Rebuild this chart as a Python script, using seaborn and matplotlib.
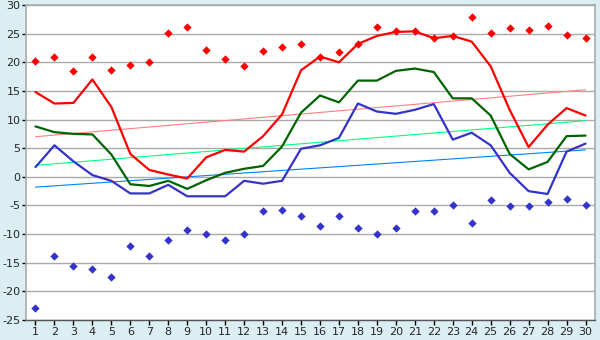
import numpy as np
import pandas as pd
import matplotlib
matplotlib.use("Agg")
import matplotlib.pyplot as plt
import seaborn as sns

days = list(range(1, 31))

t_max = [14.8, 12.8, 12.9, 17.0, 12.2, 4.0, 1.2, 0.4, -0.3, 3.4,
         4.7, 4.4, 7.1, 10.9, 18.6, 21.0, 20.0, 23.2, 24.6, 25.3,
         25.4, 24.2, 24.6, 23.6, 19.3, 11.7, 5.2, 9.1, 12.0, 10.7]
t_mean = [8.8, 7.8, 7.5, 7.4, 3.9, -1.3, -1.6, -0.7, -2.1, -0.6,
          0.7, 1.4, 1.9, 5.3, 11.2, 14.2, 13.0, 16.8, 16.8, 18.5,
          18.9, 18.3, 13.7, 13.7, 10.7, 4.0, 1.3, 2.6, 7.1, 7.2]
t_min = [1.7, 5.5, 2.7, 0.3, -0.7, -2.9, -2.9, -1.4, -3.4, -3.4,
         -3.4, -0.7, -1.2, -0.7, 4.9, 5.5, 6.8, 12.8, 11.4, 11.0,
         11.7, 12.7, 6.5, 7.7, 5.5, 0.7, -2.5, -3.0, 4.4, 5.8]
abs_max = [20.2, 20.9, 18.5, 20.9, 18.6, 19.5, 20.0, 25.1, 26.2, 22.1,
           20.6, 19.3, 22.0, 22.7, 23.2, 21.0, 21.8, 23.2, 26.2, 25.4,
           25.4, 24.2, 24.6, 27.9, 25.1, 26.0, 25.6, 26.4, 24.8, 24.2]
abs_min = [-22.9, -13.8, -15.6, -16.1, -17.5, -12.1, -13.8, -11.0, -9.3, -10.0,
           -11.0, -10.0, -6.0, -5.8, -6.8, -8.6, -6.8, -8.9, -10.0, -8.9,
           -5.9, -5.9, -4.9, -8.0, -4.0, -5.1, -5.1, -4.4, -3.8, -4.9]

# trend lines: value at day 1 and day 30
trend_days = [1, 30]
trend_max = [7.0, 15.2]
trend_mean = [2.0, 9.8]
trend_min = [-1.8, 4.7]

y_ticks = list(range(-25, 31, 5))

df = pd.DataFrame({"day": days, "max": t_max, "mean": t_mean, "min": t_min,
                   "abs_max": abs_max, "abs_min": abs_min})
tr = pd.DataFrame({"day": trend_days, "max": trend_max,
                   "mean": trend_mean, "min": trend_min})

sns.set_style("white")
plt.rcParams['font.family'] = ['DejaVu Sans']
plt.rcParams['axes.unicode_minus'] = False

bg = "#daeef4"
fig = plt.figure(figsize=(6, 3.4), dpi=100, facecolor=bg)
ax = fig.add_axes([26 / 600, 20 / 340, 569 / 600, 315 / 340])
ax.set_facecolor("white")

for v in y_ticks:
    ax.axhline(v, color="#aaaaaa", lw=1, zorder=0)

sns.lineplot(data=tr, x="day", y="max", color="#ff8080", lw=0.8, ax=ax)
sns.lineplot(data=tr, x="day", y="mean", color="#00ff80", lw=0.8, ax=ax)
sns.lineplot(data=tr, x="day", y="min", color="#0080ff", lw=0.8, ax=ax)

sns.lineplot(data=df, x="day", y="max", color="#ff0000", lw=1.6, ax=ax)
sns.lineplot(data=df, x="day", y="mean", color="#006400", lw=1.6, ax=ax)
sns.lineplot(data=df, x="day", y="min", color="#3333cc", lw=1.6, ax=ax)

sns.scatterplot(data=df, x="day", y="abs_max", color="#ff0000", marker="D",
                s=18, linewidth=0, ax=ax, zorder=5)
sns.scatterplot(data=df, x="day", y="abs_min", color="#3333cc", marker="D",
                s=18, linewidth=0, ax=ax, zorder=5)

ax.set_xlim(0.5, 30.5)
ax.set_ylim(-25, 30)
ax.set_xticks(days)
ax.set_xticklabels([str(d) for d in days])
ax.set_yticks(y_ticks)
ax.set_yticklabels([str(v) for v in y_ticks])
ax.set_xlabel("")
ax.set_ylabel("")
ax.tick_params(axis="x", direction="out", length=3.8, width=1, color="black",
               labelsize=8, pad=1, bottom=True)
ax.tick_params(axis="y", direction="out", length=3, width=1, color="black",
               labelsize=8, pad=1, left=True)
for side in ["top", "right", "left"]:
    ax.spines[side].set_color("#aaaaaa")
    ax.spines[side].set_linewidth(1.2)
ax.spines["bottom"].set_color("#555555")
ax.spines["bottom"].set_linewidth(1)

fig.savefig("out.png", dpi=100, facecolor=bg)
